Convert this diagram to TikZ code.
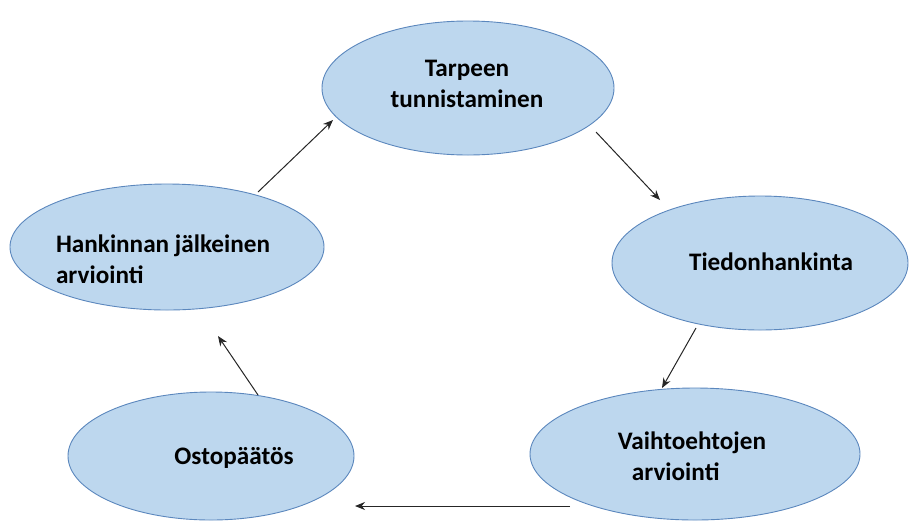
\documentclass[tikz,border=0pt]{standalone}
\usepackage{fontspec}
\setmainfont{Carlito}
\usetikzlibrary{shapes.geometric,arrows.meta}
\definecolor{ellfill}{HTML}{BDD7EE}
\definecolor{elldraw}{HTML}{5B87BD}
\tikzset{
  stage/.style={ellipse, draw=elldraw, fill=ellfill, line width=0.9pt, inner sep=0pt},
  lbl/.style={font=\bfseries\fontsize{25.2}{31.5}\selectfont, text=black, inner sep=0pt},
  conn/.style={-{Stealth[length=10pt,width=8pt]}, line width=1pt, draw=black!85}
}
\begin{document}
\begin{tikzpicture}[x=1pt,y=-1pt]
\useasboundingbox (0,0) rectangle (909,520);
% ellipses
\node[stage, minimum width=292, minimum height=134] (top) at (468,88) {};
\node[stage, minimum width=296, minimum height=134] (right) at (760,263) {};
\node[stage, minimum width=330, minimum height=132] (bright) at (695,454) {};
\node[stage, minimum width=286, minimum height=128] (bleft) at (211,456) {};
\node[stage, minimum width=314, minimum height=126] (left) at (167,247) {};
% labels
\node[lbl, align=center] (ttop) at (467,84) {Tarpeen\\tunnistaminen};
\node[lbl] (tright) at (771,262) {Tiedonhankinta};
\node[lbl, align=left] (tbright) at (692,456) {Vaihtoehtojen\\\hspace{14pt}arviointi};
\node[lbl] (tbleft) at (234,458) {Ostopäätös};
\node[lbl, align=left] (tleft) at (163,259) {Hankinnan jälkeinen\\arviointi};
% connector ends
\coordinate (a1) at (258,192); \coordinate (b1) at (333,120);
\coordinate (a2) at (596,132); \coordinate (b2) at (660,200);
\coordinate (a3) at (696,328); \coordinate (b3) at (662,388);
\coordinate (a4) at (570,506); \coordinate (b4) at (355,506);
\coordinate (a5) at (258,395); \coordinate (b5) at (218,336);
\draw[conn] (a1) -- (b1);
\draw[conn] (a2) -- (b2);
\draw[conn] (a3) -- (b3);
\draw[conn] (a4) -- (b4);
\draw[conn] (a5) -- (b5);
\end{tikzpicture}
\end{document}
